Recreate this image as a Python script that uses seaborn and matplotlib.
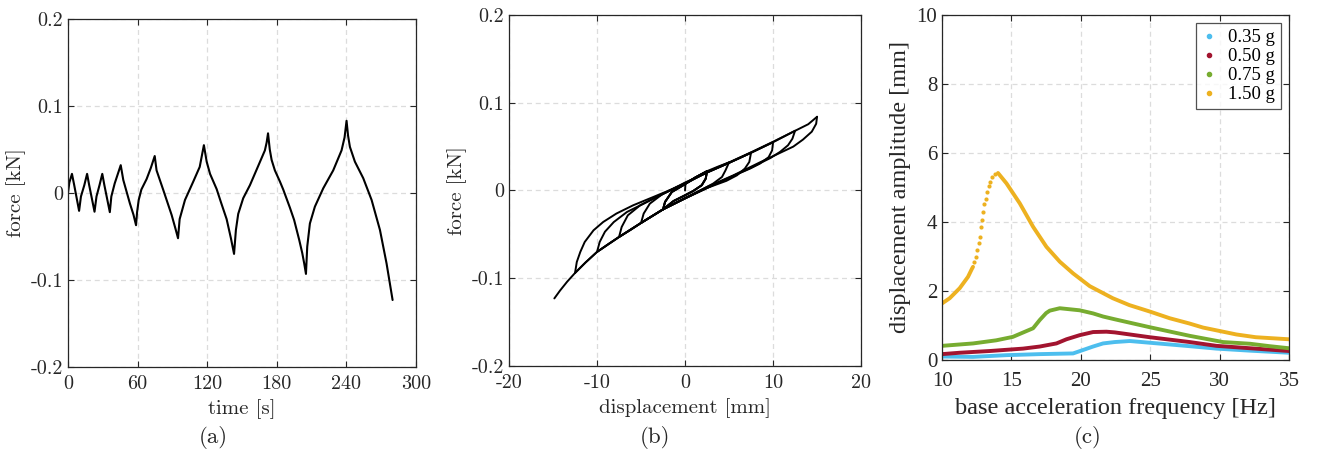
import numpy as np
import pandas as pd
import matplotlib
matplotlib.use("Agg")
import matplotlib.pyplot as plt
from matplotlib.lines import Line2D
import seaborn as sns

# ---------------- (a) force vs time ----------------
time_s = [0, 1.2, 3.45, 5.4, 9.6, 11.2, 14.1, 16.5, 18.3, 22.9, 24.6, 27.2, 29.6, 31.4, 36.1,
          37.4, 40.3, 45.5, 47.7, 53.4, 56.5, 58.7,
          59.6, 61.0, 63.3, 67.8, 71.5, 74.8,
          76.4, 82.2, 89.4, 92.9, 94.9,
          96.3, 100.9, 108.0, 113.6, 117.2,
          119.6, 122.5, 128.2, 132.0, 136.8, 140.5, 143.2,
          144.8, 146.8, 151.1, 156.9, 164.0, 169.8, 171.3, 172.5,
          174.0, 175.6, 178.4, 182.8, 185.6, 191.4, 195.0, 199.4, 202.0, 203.7, 205.2,
          206.3, 208.6, 212.9, 220.1, 228.7, 235.9, 238.5, 240.2,
          241.5, 243.1, 247.4, 254.6, 261.8, 269.0, 274.7, 279.9]
force_a = [0.0, 0.012, 0.022, 0.009, -0.0205, -0.004, 0.009, 0.022, 0.009, -0.0215, -0.004,
           0.009, 0.022, 0.009, -0.022,
           -0.004, 0.011, 0.032, 0.015, -0.012, -0.025, -0.037,
           -0.022, -0.008, 0.004, 0.016, 0.029, 0.0425,
           0.026, 0.0034, -0.0253, -0.042, -0.052,
           -0.030, -0.008, 0.013, 0.030, 0.055,
           0.036, 0.022, 0.0045, -0.011, -0.030, -0.052, -0.070,
           -0.0425, -0.024, -0.006, 0.009, 0.031, 0.049, 0.058, 0.0686,
           0.050, 0.038, 0.026, 0.013, 0.004, -0.017, -0.031, -0.054, -0.069, -0.081, -0.093,
           -0.0617, -0.035, -0.0157, 0.0054, 0.026, 0.049, 0.064, 0.083,
           0.066, 0.053, 0.036, 0.017, -0.008, -0.0425, -0.081, -0.123]

# ---------------- (b) force vs displacement (branches in loading order) ----------------
hyst_disp = [
    [0, 0.05, 1.2, 2.5],
    [2.5, 2.35, 1.9, 0.94, -0.2, -1.3, -2.5],
    [-2.5, -2.27, -1.5, -0.2, 1.2, 2.5],
    [2.5, 2.35, 1.9, 0.94, -0.2, -1.3, -2.5],
    [-2.5, -2.27, -1.5, -0.2, 1.2, 2.5],
    [2.5, 2.35, 1.9, 0.94, -0.2, -1.3, -2.5],
    [-2.5, -2.27, -1.5, -0.2, 1.2, 2.5, 3.7, 5],
    [5, 4.6, 4.2, 3.2, 2.1, 0, -2.5, -3.7, -5],
    [-5, -4.7, -4.0, -2.5, -0.95, 0, 2.5, 5, 7.5],
    [7.5, 7.3, 6.8, 5.9, 4.7, 2.5, 0, -2.5, -5, -6.2, -7.5],
    [-7.5, -7.2, -6.5, -5.1, -3.2, -1.2, 0, 2.5, 5, 7.5, 10],
    [10, 9.9, 9.5, 8.5, 7.4, 5, 2.5, 0, -2.5, -5, -7.5, -8.7, -10],
    [-10, -9.7, -9.1, -8.1, -6.6, -4.7, -2.5, 0, 2.5, 5, 7.5, 10, 12.5],
    [12.5, 12.2, 11.7, 10.8, 9.7, 7.5, 5, 2.5, 0, -2.5, -5, -7.5, -10, -11.3, -12.5],
    [-12.5, -12.3, -11.9, -11.4, -10.4, -9.3, -7.8, -5.9, -3.6, -1.3, 0.2, 2.5, 5, 7.5, 10,
     12.5, 14, 15],
    [15, 14.9, 14.4, 13.4, 12.3, 10.4, 8.5, 5.5, 2.5, 0, -2.5, -5, -7.5, -10, -11.3, -12.5,
     -13.4, -14.2, -14.85],
]
hyst_force = [
    [0, 0.008, 0.015, 0.022],
    [0.022, 0.0135, 0.006, -0.0005, -0.0065, -0.012, -0.0215],
    [-0.0215, -0.013, -0.0017, 0.006, 0.015, 0.022],
    [0.022, 0.0135, 0.006, -0.0005, -0.0065, -0.012, -0.0215],
    [-0.0215, -0.013, -0.0017, 0.006, 0.015, 0.022],
    [0.022, 0.0135, 0.006, -0.0005, -0.0065, -0.012, -0.0215],
    [-0.0215, -0.013, -0.0017, 0.006, 0.015, 0.022, 0.027, 0.032],
    [0.032, 0.023, 0.0154, 0.0079, 0.002, -0.009, -0.0215, -0.029, -0.037],
    [-0.037, -0.0263, -0.015, -0.0036, 0.004, 0.008, 0.0205, 0.0315, 0.043],
    [0.043, 0.0325, 0.025, 0.0173, 0.011, 0.0029, -0.009, -0.0215, -0.037, -0.045, -0.053],
    [-0.053, -0.0416, -0.0283, -0.0169, -0.007, 0.002, 0.0085, 0.0205, 0.0315, 0.043, 0.055],
    [0.055, 0.0458, 0.038, 0.0306, 0.025, 0.0145, 0.0029, -0.009, -0.0215, -0.037, -0.053,
     -0.061, -0.070],
    [-0.070, -0.0587, -0.047, -0.036, -0.0245, -0.015, -0.004, 0.009, 0.0205, 0.0315, 0.043,
     0.055, 0.068],
    [0.068, 0.059, 0.0515, 0.044, 0.037, 0.026, 0.0145, 0.0029, -0.009, -0.0215, -0.037, -0.053,
     -0.070, -0.082, -0.094],
    [-0.094, -0.0815, -0.070, -0.0587, -0.0454, -0.0359, -0.0263, -0.0169, -0.0074, 0.0022,
     0.0085, 0.021, 0.032, 0.0435, 0.0555, 0.068, 0.0755, 0.084],
    [0.084, 0.076, 0.067, 0.058, 0.050, 0.041, 0.032, 0.0173, 0.004, -0.0085, -0.0215, -0.037,
     -0.053, -0.070, -0.082, -0.094, -0.104, -0.114, -0.123],
]

# ---------------- (c) displacement amplitude vs frequency ----------------
series_labels = ["0.35 g", "0.50 g", "0.75 g", "1.50 g"]
series_colors = ["#4DBEEE", "#A2142F", "#77AC30", "#EDB120"]

freq_035 = [10, 12.24, 14.64, 17.04, 19.44, 20.16, 20.88, 21.6, 22.44, 23.52, 24.96, 27.84, 29.76, 32.2, 35]
amp_035 = [0.10, 0.09, 0.14, 0.17, 0.19, 0.29, 0.39, 0.48, 0.52, 0.55, 0.50, 0.40, 0.33, 0.27, 0.21]

freq_050 = [10, 11.27, 13.43, 15.84, 17.04, 18.24, 18.96, 19.92, 20.88, 21.84, 22.44, 23.52, 24.96, 27.84, 29.76, 32.2, 35]
amp_050 = [0.17, 0.21, 0.26, 0.33, 0.39, 0.48, 0.60, 0.72, 0.81, 0.82, 0.80, 0.74, 0.66, 0.52, 0.41, 0.34, 0.26]

freq_075 = [10, 12.24, 13.9, 15.1, 15.8, 16.56, 17.04, 17.5, 17.76, 18.48, 19.92, 20.88, 21.6, 22.44,
            24.96, 27.84, 30.24, 32.2, 33.6, 35]
amp_075 = [0.41, 0.48, 0.57, 0.67, 0.79, 0.92, 1.16, 1.36, 1.43, 1.50, 1.44, 1.35, 1.26, 1.18,
           0.95, 0.70, 0.52, 0.47, 0.40, 0.34]

freq_150_low = [10, 10.55, 11.27, 11.87, 12.16, 12.23]
amp_150_low = [1.64, 1.79, 2.08, 2.41, 2.65, 2.70]
freq_150_sparse = [12.33, 12.43, 12.52, 12.64, 12.72, 12.81, 12.91, 12.98, 13.05, 13.15, 13.24,
                   13.36, 13.49, 13.63, 13.80]
amp_150_sparse = [2.85, 2.99, 3.19, 3.38, 3.57, 3.86, 4.05, 4.28, 4.52, 4.67, 4.87, 5.04, 5.16,
                  5.29, 5.39]
freq_150_high = [14.03, 14.64, 15.6, 16.56, 17.52, 18.48, 19.44, 20.64, 22.3, 23.5, 25.0, 26.4,
                 27.8, 28.8, 30.0, 31.2, 32.6, 35]
amp_150_high = [5.42, 5.12, 4.54, 3.86, 3.28, 2.85, 2.51, 2.14, 1.79, 1.59, 1.40, 1.21, 1.06,
                0.94, 0.84, 0.74, 0.66, 0.60]

# ---------------- styling ----------------
sns.set_theme(style="white")
plt.rcParams["axes.unicode_minus"] = False
plt.rcParams["mathtext.fontset"] = "cm"
plt.rcParams["lines.solid_joinstyle"] = "round"

AX_COL = "#262626"
GRID_KW = dict(color="#dcdcdc", linestyle=(0, (4, 3)), linewidth=0.9)
CM = ["cmr10", "DejaVu Serif"]
TIMES = ["Liberation Serif", "DejaVu Serif"]

fig = plt.figure(figsize=(13.17, 4.58), dpi=100)
ax_a = fig.add_axes([0.0516, 0.1987, 0.2642, 0.7598])
ax_b = fig.add_axes([0.3865, 0.2009, 0.2673, 0.7664])
ax_c = fig.add_axes([0.7153, 0.2140, 0.2635, 0.7533])


def style_axes(ax, fam, size, xpad, ypad):
    for s in ax.spines.values():
        s.set_visible(True)
        s.set_color(AX_COL)
        s.set_linewidth(0.9)
    ax.tick_params(direction="in", length=4, width=0.8, colors=AX_COL,
                   top=True, right=True, bottom=True, left=True, labelsize=size)
    ax.tick_params(axis="x", pad=xpad)
    ax.tick_params(axis="y", pad=ypad)
    ax.grid(True, **GRID_KW)
    ax.set_axisbelow(True)
    for lab in ax.get_xticklabels() + ax.get_yticklabels():
        lab.set_family(fam)
        lab.set_fontsize(size)
        lab.set_color(AX_COL)


# (a)
df_a = pd.DataFrame({"time": time_s, "force": force_a})
sns.lineplot(data=df_a, x="time", y="force", ax=ax_a, color="black", linewidth=1.5,
             sort=False, estimator=None)
ax_a.set_xlim(0, 300)
ax_a.set_ylim(-0.2, 0.2)
ax_a.set_xticks([0, 60, 120, 180, 240, 300])
ax_a.set_xticklabels(["0", "60", "120", "180", "240", "300"])
ax_a.set_yticks([-0.2, -0.1, 0, 0.1, 0.2])
ax_a.set_yticklabels(["-0.2", "-0.1", "0", "0.1", "0.2"])
ax_a.set_xlabel("time [s]", family=CM, fontsize=15, color=AX_COL, labelpad=4)
ax_a.set_ylabel("force [kN]", family=CM, fontsize=15, color=AX_COL, labelpad=3)
style_axes(ax_a, CM, 14.5, 6, 3.5)

# (b)
rows = []
for i, (dl, fl) in enumerate(zip(hyst_disp, hyst_force)):
    for d, f in zip(dl, fl):
        rows.append((i, d, f))
df_b = pd.DataFrame(rows, columns=["branch", "disp", "force"])
for i, g in df_b.groupby("branch"):
    sns.lineplot(data=g, x="disp", y="force", ax=ax_b, color="black", linewidth=1.4,
                 sort=False, estimator=None)
ax_b.set_xlim(-20, 20)
ax_b.set_ylim(-0.2, 0.2)
ax_b.set_xticks([-20, -10, 0, 10, 20])
ax_b.set_xticklabels(["-20", "-10", "0", "10", "20"])
ax_b.set_yticks([-0.2, -0.1, 0, 0.1, 0.2])
ax_b.set_yticklabels(["-0.2", "-0.1", "0", "0.1", "0.2"])
ax_b.set_xlabel("displacement [mm]", family=CM, fontsize=15, color=AX_COL, labelpad=4)
ax_b.set_ylabel("force [kN]", family=CM, fontsize=15, color=AX_COL, labelpad=3)
style_axes(ax_b, CM, 14.5, 6, 3.5)

# (c)
lw_c = 2.8
sns.lineplot(x=freq_035, y=amp_035, ax=ax_c, color=series_colors[0], linewidth=lw_c, sort=False, estimator=None)
sns.lineplot(x=freq_050, y=amp_050, ax=ax_c, color=series_colors[1], linewidth=lw_c, sort=False, estimator=None)
sns.lineplot(x=freq_075, y=amp_075, ax=ax_c, color=series_colors[2], linewidth=lw_c, sort=False, estimator=None)
sns.lineplot(x=freq_150_low, y=amp_150_low, ax=ax_c, color=series_colors[3], linewidth=lw_c, sort=False, estimator=None)
sns.scatterplot(x=freq_150_sparse, y=amp_150_sparse, ax=ax_c, color=series_colors[3], s=9, linewidth=0)
sns.lineplot(x=freq_150_high, y=amp_150_high, ax=ax_c, color=series_colors[3], linewidth=lw_c, sort=False, estimator=None)
ax_c.set_xlim(10, 35)
ax_c.set_ylim(0, 10)
ax_c.set_xticks([10, 15, 20, 25, 30, 35])
ax_c.set_yticks([0, 2, 4, 6, 8, 10])
ax_c.set_xticklabels(["10", "15", "20", "25", "30", "35"])
ax_c.set_yticklabels(["0", "2", "4", "6", "8", "10"])
ax_c.set_xlabel("base acceleration frequency [Hz]", family=TIMES, fontsize=17.5, color=AX_COL, labelpad=5)
ax_c.set_ylabel("displacement amplitude [mm]", family=TIMES, fontsize=17.5, color=AX_COL, labelpad=4)
style_axes(ax_c, TIMES, 15, 9, 3.5)
handles = [Line2D([], [], marker="o", linestyle="", color=c, markersize=3) for c in series_colors]
leg = ax_c.legend(handles, series_labels, loc="upper right", frameon=True, fancybox=False,
                  prop={"family": TIMES, "size": 13.5}, handlelength=0.8, handletextpad=0.6,
                  borderpad=0.3, labelspacing=0.1, borderaxespad=0.45)
leg.get_frame().set_edgecolor(AX_COL)
leg.get_frame().set_linewidth(0.9)
for t in leg.get_texts():
    t.set_color("black")

# captions
for xpos, txt in [(0.162, "(a)"), (0.497, "(b)"), (0.826, "(c)")]:
    fig.text(xpos, 0.045, txt, family=CM, fontsize=16.5, color=AX_COL, ha="center", va="center")

fig.savefig("out.png", dpi=100)
